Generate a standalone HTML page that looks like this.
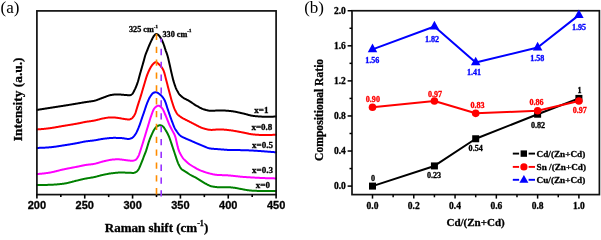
<!DOCTYPE html><html><head><meta charset="utf-8"><style>html,body{margin:0;padding:0;background:#fff;}svg{display:block;filter:blur(0.3px);}</style></head><body>
<svg width="601" height="235" viewBox="0 0 601 235">
<rect width="601" height="235" fill="#fff"/>
<text x="0.5" y="13" font-family='"Liberation Serif", serif' font-size="17" fill="#000">(a)</text>
<path d="M37.00,185.10 L37.40,185.10 L37.80,185.10 L38.20,185.10 L38.60,185.10 L39.00,185.09 L39.40,185.09 L39.80,185.08 L40.20,185.08 L40.60,185.07 L41.00,185.06 L41.40,185.06 L41.80,185.05 L42.20,185.04 L42.60,185.03 L43.00,185.02 L43.40,185.01 L43.80,185.00 L44.20,184.98 L44.60,184.97 L45.00,184.96 L45.40,184.95 L45.80,184.93 L46.20,184.92 L46.60,184.91 L47.00,184.89 L47.40,184.88 L47.80,184.86 L48.20,184.85 L48.60,184.84 L49.00,184.82 L49.40,184.81 L49.80,184.80 L50.20,184.78 L50.60,184.77 L51.00,184.75 L51.40,184.73 L51.80,184.72 L52.20,184.70 L52.60,184.68 L53.00,184.65 L53.40,184.63 L53.80,184.61 L54.20,184.58 L54.60,184.56 L55.00,184.53 L55.40,184.50 L55.80,184.47 L56.20,184.44 L56.60,184.41 L57.00,184.38 L57.40,184.34 L57.80,184.31 L58.20,184.27 L58.60,184.23 L59.00,184.20 L59.40,184.16 L59.80,184.12 L60.20,184.07 L60.60,184.03 L61.00,183.99 L61.40,183.94 L61.80,183.90 L62.20,183.85 L62.60,183.80 L63.00,183.75 L63.40,183.70 L63.80,183.65 L64.20,183.59 L64.60,183.53 L65.00,183.46 L65.40,183.39 L65.80,183.31 L66.20,183.23 L66.60,183.15 L67.00,183.07 L67.40,182.98 L67.80,182.89 L68.20,182.80 L68.60,182.70 L69.00,182.60 L69.40,182.51 L69.80,182.41 L70.20,182.30 L70.60,182.20 L71.00,182.10 L71.40,181.99 L71.80,181.88 L72.20,181.78 L72.60,181.67 L73.00,181.56 L73.40,181.46 L73.80,181.35 L74.20,181.25 L74.60,181.14 L75.00,181.04 L75.40,180.94 L75.80,180.84 L76.20,180.74 L76.60,180.64 L77.00,180.55 L77.40,180.45 L77.80,180.36 L78.20,180.27 L78.60,180.17 L79.00,180.08 L79.40,179.98 L79.80,179.89 L80.20,179.79 L80.60,179.69 L81.00,179.60 L81.40,179.50 L81.80,179.41 L82.20,179.32 L82.60,179.23 L83.00,179.13 L83.40,179.04 L83.80,178.96 L84.20,178.87 L84.60,178.78 L85.00,178.70 L85.40,178.62 L85.80,178.54 L86.20,178.47 L86.60,178.39 L87.00,178.32 L87.40,178.25 L87.80,178.19 L88.20,178.12 L88.60,178.06 L89.00,177.99 L89.40,177.93 L89.80,177.87 L90.20,177.80 L90.60,177.74 L91.00,177.67 L91.40,177.60 L91.80,177.54 L92.20,177.47 L92.60,177.39 L93.00,177.32 L93.40,177.24 L93.80,177.16 L94.20,177.08 L94.60,176.99 L95.00,176.90 L95.40,176.81 L95.80,176.71 L96.20,176.61 L96.60,176.51 L97.00,176.40 L97.40,176.30 L97.80,176.19 L98.20,176.08 L98.60,175.97 L99.00,175.87 L99.40,175.76 L99.80,175.65 L100.20,175.55 L100.60,175.44 L101.00,175.34 L101.40,175.24 L101.80,175.14 L102.20,175.04 L102.60,174.95 L103.00,174.86 L103.40,174.78 L103.80,174.70 L104.20,174.61 L104.60,174.53 L105.00,174.45 L105.40,174.36 L105.80,174.28 L106.20,174.20 L106.60,174.12 L107.00,174.05 L107.40,173.97 L107.80,173.89 L108.20,173.82 L108.60,173.75 L109.00,173.68 L109.40,173.61 L109.80,173.55 L110.20,173.49 L110.60,173.43 L111.00,173.37 L111.40,173.32 L111.80,173.27 L112.20,173.22 L112.60,173.18 L113.00,173.13 L113.40,173.09 L113.80,173.04 L114.20,173.00 L114.60,172.95 L115.00,172.91 L115.40,172.87 L115.80,172.82 L116.20,172.78 L116.60,172.74 L117.00,172.70 L117.40,172.67 L117.80,172.63 L118.20,172.60 L118.60,172.58 L119.00,172.55 L119.40,172.53 L119.80,172.52 L120.20,172.50 L120.60,172.50 L121.00,172.49 L121.40,172.50 L121.80,172.50 L122.20,172.51 L122.60,172.53 L123.00,172.54 L123.40,172.55 L123.80,172.57 L124.20,172.59 L124.60,172.60 L125.00,172.62 L125.40,172.64 L125.80,172.66 L126.20,172.68 L126.60,172.70 L127.00,172.72 L127.40,172.74 L127.80,172.75 L128.20,172.77 L128.60,172.79 L129.00,172.80 L129.40,172.82 L129.80,172.83 L130.20,172.84 L130.60,172.85 L131.00,172.86 L131.40,172.87 L131.80,172.88 L132.20,172.89 L132.60,172.89 L133.00,172.90 L133.40,172.90 L133.80,172.88 L134.20,172.79 L134.60,172.66 L135.00,172.48 L135.40,172.29 L135.80,172.09 L136.20,171.90 L136.60,171.63 L137.00,171.30 L137.40,170.89 L137.80,170.44 L138.20,169.93 L138.60,169.29 L139.00,168.53 L139.40,167.68 L139.80,166.77 L140.20,165.83 L140.60,164.90 L141.00,163.95 L141.40,162.96 L141.80,161.93 L142.20,160.89 L142.60,159.83 L143.00,158.78 L143.40,157.74 L143.80,156.73 L144.20,155.73 L144.60,154.72 L145.00,153.70 L145.40,152.65 L145.80,151.56 L146.20,150.42 L146.60,149.18 L147.00,147.88 L147.40,146.54 L147.80,145.19 L148.20,143.86 L148.60,142.57 L149.00,141.37 L149.40,140.25 L149.80,139.20 L150.20,138.18 L150.60,137.20 L151.00,136.25 L151.40,135.33 L151.80,134.44 L152.20,133.56 L152.60,132.69 L153.00,131.85 L153.40,131.05 L153.80,130.33 L154.20,129.69 L154.60,129.07 L155.00,128.48 L155.40,127.93 L155.80,127.44 L156.20,127.04 L156.60,126.73 L157.00,126.46 L157.40,126.20 L157.80,125.96 L158.20,125.74 L158.60,125.55 L159.00,125.40 L159.40,125.28 L159.80,125.21 L160.20,125.20 L160.60,125.25 L161.00,125.36 L161.40,125.52 L161.80,125.72 L162.20,125.95 L162.60,126.22 L163.00,126.50 L163.40,126.86 L163.80,127.34 L164.20,127.92 L164.60,128.54 L165.00,129.20 L165.40,129.84 L165.80,130.47 L166.20,131.12 L166.60,131.79 L167.00,132.49 L167.40,133.23 L167.80,134.01 L168.20,134.84 L168.60,135.73 L169.00,136.68 L169.40,137.70 L169.80,138.77 L170.20,139.88 L170.60,141.03 L171.00,142.21 L171.40,143.41 L171.80,144.62 L172.20,145.84 L172.60,147.06 L173.00,148.26 L173.40,149.44 L173.80,150.60 L174.20,151.76 L174.60,152.96 L175.00,154.19 L175.40,155.43 L175.80,156.67 L176.20,157.89 L176.60,159.09 L177.00,160.24 L177.40,161.34 L177.80,162.38 L178.20,163.34 L178.60,164.21 L179.00,165.03 L179.40,165.82 L179.80,166.56 L180.20,167.25 L180.60,167.88 L181.00,168.44 L181.40,168.93 L181.80,169.33 L182.20,169.65 L182.60,169.94 L183.00,170.21 L183.40,170.46 L183.80,170.70 L184.20,170.93 L184.60,171.16 L185.00,171.39 L185.40,171.63 L185.80,171.87 L186.20,172.13 L186.60,172.39 L187.00,172.66 L187.40,172.93 L187.80,173.20 L188.20,173.47 L188.60,173.74 L189.00,174.00 L189.40,174.26 L189.80,174.52 L190.20,174.76 L190.60,175.00 L191.00,175.23 L191.40,175.44 L191.80,175.65 L192.20,175.85 L192.60,176.04 L193.00,176.24 L193.40,176.43 L193.80,176.62 L194.20,176.82 L194.60,177.02 L195.00,177.24 L195.40,177.46 L195.80,177.68 L196.20,177.92 L196.60,178.16 L197.00,178.40 L197.40,178.65 L197.80,178.90 L198.20,179.15 L198.60,179.40 L199.00,179.66 L199.40,179.92 L199.80,180.17 L200.20,180.43 L200.60,180.69 L201.00,180.95 L201.40,181.20 L201.80,181.45 L202.20,181.70 L202.60,181.95 L203.00,182.19 L203.40,182.43 L203.80,182.67 L204.20,182.90 L204.60,183.12 L205.00,183.34 L205.40,183.55 L205.80,183.75 L206.20,183.96 L206.60,184.17 L207.00,184.39 L207.40,184.59 L207.80,184.80 L208.20,185.00 L208.60,185.20 L209.00,185.39 L209.40,185.57 L209.80,185.75 L210.20,185.91 L210.60,186.05 L211.00,186.19 L211.40,186.30 L211.80,186.40 L212.20,186.48 L212.60,186.55 L213.00,186.61 L213.40,186.68 L213.80,186.74 L214.20,186.80 L214.60,186.85 L215.00,186.91 L215.40,186.96 L215.80,187.01 L216.20,187.06 L216.60,187.10 L217.00,187.14 L217.40,187.18 L217.80,187.21 L218.20,187.23 L218.60,187.26 L219.00,187.28 L219.40,187.29 L219.80,187.30 L220.20,187.30 L220.60,187.30 L221.00,187.30 L221.40,187.29 L221.80,187.29 L222.20,187.28 L222.60,187.27 L223.00,187.26 L223.40,187.25 L223.80,187.23 L224.20,187.22 L224.60,187.21 L225.00,187.20 L225.40,187.20 L225.80,187.19 L226.20,187.19 L226.60,187.19 L227.00,187.19 L227.40,187.20 L227.80,187.21 L228.20,187.22 L228.60,187.23 L229.00,187.25 L229.40,187.28 L229.80,187.30 L230.20,187.33 L230.60,187.36 L231.00,187.39 L231.40,187.43 L231.80,187.46 L232.20,187.50 L232.60,187.54 L233.00,187.59 L233.40,187.63 L233.80,187.68 L234.20,187.72 L234.60,187.78 L235.00,187.84 L235.40,187.91 L235.80,187.98 L236.20,188.05 L236.60,188.13 L237.00,188.21 L237.40,188.29 L237.80,188.38 L238.20,188.46 L238.60,188.54 L239.00,188.62 L239.40,188.69 L239.80,188.77 L240.20,188.83 L240.60,188.90 L241.00,188.98 L241.40,189.05 L241.80,189.12 L242.20,189.20 L242.60,189.27 L243.00,189.35 L243.40,189.42 L243.80,189.50 L244.20,189.57 L244.60,189.65 L245.00,189.72 L245.40,189.80 L245.80,189.87 L246.20,189.94 L246.60,190.01 L247.00,190.07 L247.40,190.14 L247.80,190.20 L248.20,190.26 L248.60,190.31 L249.00,190.37 L249.40,190.41 L249.80,190.46 L250.20,190.50 L250.60,190.54 L251.00,190.57 L251.40,190.60 L251.80,190.63 L252.20,190.65 L252.60,190.67 L253.00,190.70 L253.40,190.72 L253.80,190.74 L254.20,190.76 L254.60,190.78 L255.00,190.80 L255.40,190.82 L255.80,190.84 L256.20,190.86 L256.60,190.87 L257.00,190.89 L257.40,190.90 L257.80,190.91 L258.20,190.93 L258.60,190.94 L259.00,190.95 L259.40,190.96 L259.80,190.97 L260.20,190.98 L260.60,190.98 L261.00,190.99 L261.40,190.99 L261.80,191.00 L262.20,191.00 L262.60,191.00 L263.00,191.01 L263.40,191.01 L263.80,191.01 L264.20,191.02 L264.60,191.02 L265.00,191.02 L265.40,191.02 L265.80,191.03 L266.20,191.03 L266.60,191.03 L267.00,191.03 L267.40,191.03 L267.80,191.04 L268.20,191.04 L268.60,191.04 L269.00,191.04 L269.40,191.04 L269.80,191.04 L270.20,191.04 L270.60,191.04 L271.00,191.04 L271.40,191.04 L271.80,191.04 L272.20,191.03 L272.60,191.03 L273.00,191.03 L273.40,191.03 L273.80,191.02 L274.20,191.02 L274.60,191.02 L275.00,191.01 L275.40,191.01 L275.80,191.00 L276.00,191.00" fill="none" stroke="#008000" stroke-width="2.00" stroke-linejoin="round" stroke-linecap="round"/>
<path d="M37.00,174.00 L37.40,173.98 L37.80,173.97 L38.20,173.95 L38.60,173.92 L39.00,173.90 L39.40,173.87 L39.80,173.84 L40.20,173.81 L40.60,173.78 L41.00,173.74 L41.40,173.70 L41.80,173.66 L42.20,173.62 L42.60,173.58 L43.00,173.54 L43.40,173.49 L43.80,173.44 L44.20,173.39 L44.60,173.34 L45.00,173.29 L45.40,173.24 L45.80,173.18 L46.20,173.13 L46.60,173.07 L47.00,173.01 L47.40,172.96 L47.80,172.90 L48.20,172.84 L48.60,172.77 L49.00,172.71 L49.40,172.65 L49.80,172.58 L50.20,172.52 L50.60,172.45 L51.00,172.37 L51.40,172.29 L51.80,172.21 L52.20,172.13 L52.60,172.04 L53.00,171.96 L53.40,171.86 L53.80,171.77 L54.20,171.68 L54.60,171.58 L55.00,171.48 L55.40,171.38 L55.80,171.28 L56.20,171.18 L56.60,171.07 L57.00,170.97 L57.40,170.87 L57.80,170.76 L58.20,170.66 L58.60,170.56 L59.00,170.45 L59.40,170.35 L59.80,170.25 L60.20,170.15 L60.60,170.05 L61.00,169.95 L61.40,169.85 L61.80,169.76 L62.20,169.67 L62.60,169.57 L63.00,169.49 L63.40,169.40 L63.80,169.32 L64.20,169.23 L64.60,169.15 L65.00,169.07 L65.40,168.99 L65.80,168.91 L66.20,168.83 L66.60,168.75 L67.00,168.67 L67.40,168.59 L67.80,168.51 L68.20,168.43 L68.60,168.36 L69.00,168.28 L69.40,168.20 L69.80,168.13 L70.20,168.05 L70.60,167.97 L71.00,167.90 L71.40,167.82 L71.80,167.75 L72.20,167.67 L72.60,167.59 L73.00,167.52 L73.40,167.44 L73.80,167.36 L74.20,167.29 L74.60,167.21 L75.00,167.13 L75.40,167.06 L75.80,166.98 L76.20,166.90 L76.60,166.82 L77.00,166.74 L77.40,166.66 L77.80,166.58 L78.20,166.50 L78.60,166.41 L79.00,166.33 L79.40,166.24 L79.80,166.16 L80.20,166.07 L80.60,165.98 L81.00,165.90 L81.40,165.81 L81.80,165.73 L82.20,165.65 L82.60,165.56 L83.00,165.48 L83.40,165.40 L83.80,165.32 L84.20,165.25 L84.60,165.17 L85.00,165.10 L85.40,165.03 L85.80,164.97 L86.20,164.91 L86.60,164.85 L87.00,164.80 L87.40,164.75 L87.80,164.71 L88.20,164.66 L88.60,164.62 L89.00,164.58 L89.40,164.53 L89.80,164.49 L90.20,164.45 L90.60,164.41 L91.00,164.36 L91.40,164.31 L91.80,164.26 L92.20,164.21 L92.60,164.15 L93.00,164.09 L93.40,164.03 L93.80,163.96 L94.20,163.88 L94.60,163.80 L95.00,163.71 L95.40,163.62 L95.80,163.52 L96.20,163.41 L96.60,163.30 L97.00,163.19 L97.40,163.08 L97.80,162.96 L98.20,162.84 L98.60,162.72 L99.00,162.60 L99.40,162.48 L99.80,162.36 L100.20,162.24 L100.60,162.12 L101.00,162.01 L101.40,161.89 L101.80,161.78 L102.20,161.67 L102.60,161.57 L103.00,161.47 L103.40,161.38 L103.80,161.28 L104.20,161.19 L104.60,161.09 L105.00,161.00 L105.40,160.90 L105.80,160.81 L106.20,160.72 L106.60,160.62 L107.00,160.53 L107.40,160.44 L107.80,160.36 L108.20,160.27 L108.60,160.19 L109.00,160.11 L109.40,160.03 L109.80,159.96 L110.20,159.89 L110.60,159.83 L111.00,159.77 L111.40,159.71 L111.80,159.66 L112.20,159.62 L112.60,159.58 L113.00,159.55 L113.40,159.51 L113.80,159.48 L114.20,159.45 L114.60,159.42 L115.00,159.39 L115.40,159.37 L115.80,159.35 L116.20,159.34 L116.60,159.33 L117.00,159.32 L117.40,159.32 L117.80,159.32 L118.20,159.32 L118.60,159.33 L119.00,159.35 L119.40,159.37 L119.80,159.40 L120.20,159.43 L120.60,159.47 L121.00,159.51 L121.40,159.56 L121.80,159.61 L122.20,159.66 L122.60,159.71 L123.00,159.77 L123.40,159.82 L123.80,159.88 L124.20,159.93 L124.60,159.99 L125.00,160.05 L125.40,160.10 L125.80,160.15 L126.20,160.20 L126.60,160.25 L127.00,160.30 L127.40,160.34 L127.80,160.39 L128.20,160.44 L128.60,160.48 L129.00,160.53 L129.40,160.57 L129.80,160.62 L130.20,160.66 L130.60,160.70 L131.00,160.74 L131.40,160.77 L131.80,160.81 L132.20,160.81 L132.60,160.77 L133.00,160.71 L133.40,160.61 L133.80,160.50 L134.20,160.37 L134.60,160.24 L135.00,160.10 L135.40,159.96 L135.80,159.73 L136.20,159.39 L136.60,158.94 L137.00,158.41 L137.40,157.80 L137.80,157.14 L138.20,156.44 L138.60,155.71 L139.00,154.80 L139.40,153.70 L139.80,152.49 L140.20,151.23 L140.60,150.00 L141.00,148.79 L141.40,147.55 L141.80,146.29 L142.20,145.02 L142.60,143.74 L143.00,142.44 L143.40,141.15 L143.80,139.85 L144.20,138.55 L144.60,137.24 L145.00,135.93 L145.40,134.60 L145.80,133.28 L146.20,131.95 L146.60,130.62 L147.00,129.31 L147.40,128.00 L147.80,126.69 L148.20,125.35 L148.60,124.01 L149.00,122.67 L149.40,121.34 L149.80,120.03 L150.20,118.76 L150.60,117.53 L151.00,116.36 L151.40,115.24 L151.80,114.11 L152.20,112.99 L152.60,111.91 L153.00,110.89 L153.40,109.97 L153.80,109.18 L154.20,108.55 L154.60,108.08 L155.00,107.66 L155.40,107.26 L155.80,106.90 L156.20,106.57 L156.60,106.29 L157.00,106.05 L157.40,105.87 L157.80,105.75 L158.20,105.69 L158.60,105.70 L159.00,105.78 L159.40,105.93 L159.80,106.13 L160.20,106.39 L160.60,106.71 L161.00,107.07 L161.40,107.47 L161.80,107.91 L162.20,108.38 L162.60,108.91 L163.00,109.58 L163.40,110.37 L163.80,111.24 L164.20,112.16 L164.60,113.11 L165.00,114.07 L165.40,115.00 L165.80,115.93 L166.20,116.90 L166.60,117.89 L167.00,118.90 L167.40,119.91 L167.80,120.93 L168.20,121.93 L168.60,122.91 L169.00,123.87 L169.40,124.78 L169.80,125.65 L170.20,126.48 L170.60,127.28 L171.00,128.06 L171.40,128.83 L171.80,129.61 L172.20,130.38 L172.60,131.11 L173.00,131.79 L173.40,132.48 L173.80,133.19 L174.20,133.97 L174.60,134.83 L175.00,135.83 L175.40,137.08 L175.80,138.56 L176.20,140.20 L176.60,141.93 L177.00,143.70 L177.40,145.45 L177.80,147.12 L178.20,148.64 L178.60,149.95 L179.00,151.00 L179.40,151.88 L179.80,152.71 L180.20,153.51 L180.60,154.28 L181.00,155.00 L181.40,155.69 L181.80,156.34 L182.20,156.96 L182.60,157.54 L183.00,158.08 L183.40,158.59 L183.80,159.06 L184.20,159.50 L184.60,159.90 L185.00,160.29 L185.40,160.68 L185.80,161.06 L186.20,161.44 L186.60,161.81 L187.00,162.18 L187.40,162.54 L187.80,162.89 L188.20,163.23 L188.60,163.56 L189.00,163.87 L189.40,164.18 L189.80,164.47 L190.20,164.74 L190.60,165.00 L191.00,165.25 L191.40,165.50 L191.80,165.75 L192.20,166.00 L192.60,166.25 L193.00,166.50 L193.40,166.75 L193.80,166.99 L194.20,167.23 L194.60,167.47 L195.00,167.71 L195.40,167.94 L195.80,168.17 L196.20,168.40 L196.60,168.62 L197.00,168.84 L197.40,169.05 L197.80,169.26 L198.20,169.46 L198.60,169.65 L199.00,169.84 L199.40,170.02 L199.80,170.20 L200.20,170.36 L200.60,170.52 L201.00,170.68 L201.40,170.82 L201.80,170.97 L202.20,171.12 L202.60,171.26 L203.00,171.41 L203.40,171.55 L203.80,171.69 L204.20,171.82 L204.60,171.96 L205.00,172.09 L205.40,172.22 L205.80,172.35 L206.20,172.48 L206.60,172.60 L207.00,172.72 L207.40,172.84 L207.80,172.96 L208.20,173.08 L208.60,173.19 L209.00,173.30 L209.40,173.40 L209.80,173.51 L210.20,173.61 L210.60,173.71 L211.00,173.80 L211.40,173.89 L211.80,173.99 L212.20,174.09 L212.60,174.18 L213.00,174.28 L213.40,174.37 L213.80,174.45 L214.20,174.54 L214.60,174.61 L215.00,174.68 L215.40,174.73 L215.80,174.78 L216.20,174.82 L216.60,174.85 L217.00,174.88 L217.40,174.91 L217.80,174.94 L218.20,174.96 L218.60,174.98 L219.00,175.01 L219.40,175.03 L219.80,175.04 L220.20,175.06 L220.60,175.08 L221.00,175.09 L221.40,175.11 L221.80,175.12 L222.20,175.14 L222.60,175.15 L223.00,175.16 L223.40,175.18 L223.80,175.19 L224.20,175.20 L224.60,175.22 L225.00,175.23 L225.40,175.25 L225.80,175.27 L226.20,175.28 L226.60,175.30 L227.00,175.32 L227.40,175.35 L227.80,175.37 L228.20,175.40 L228.60,175.42 L229.00,175.45 L229.40,175.48 L229.80,175.52 L230.20,175.55 L230.60,175.59 L231.00,175.63 L231.40,175.67 L231.80,175.71 L232.20,175.75 L232.60,175.79 L233.00,175.83 L233.40,175.88 L233.80,175.92 L234.20,175.96 L234.60,176.01 L235.00,176.05 L235.40,176.10 L235.80,176.14 L236.20,176.19 L236.60,176.24 L237.00,176.28 L237.40,176.33 L237.80,176.37 L238.20,176.42 L238.60,176.46 L239.00,176.50 L239.40,176.55 L239.80,176.59 L240.20,176.63 L240.60,176.67 L241.00,176.71 L241.40,176.75 L241.80,176.79 L242.20,176.82 L242.60,176.86 L243.00,176.89 L243.40,176.92 L243.80,176.95 L244.20,176.98 L244.60,177.01 L245.00,177.03 L245.40,177.06 L245.80,177.08 L246.20,177.11 L246.60,177.14 L247.00,177.16 L247.40,177.19 L247.80,177.21 L248.20,177.24 L248.60,177.26 L249.00,177.29 L249.40,177.31 L249.80,177.34 L250.20,177.36 L250.60,177.38 L251.00,177.41 L251.40,177.43 L251.80,177.46 L252.20,177.48 L252.60,177.50 L253.00,177.53 L253.40,177.55 L253.80,177.57 L254.20,177.59 L254.60,177.62 L255.00,177.64 L255.40,177.66 L255.80,177.68 L256.20,177.70 L256.60,177.72 L257.00,177.75 L257.40,177.77 L257.80,177.79 L258.20,177.81 L258.60,177.83 L259.00,177.85 L259.40,177.87 L259.80,177.89 L260.20,177.91 L260.60,177.92 L261.00,177.94 L261.40,177.96 L261.80,177.98 L262.20,178.00 L262.60,178.01 L263.00,178.03 L263.40,178.05 L263.80,178.06 L264.20,178.08 L264.60,178.10 L265.00,178.11 L265.40,178.13 L265.80,178.14 L266.20,178.16 L266.60,178.17 L267.00,178.19 L267.40,178.20 L267.80,178.21 L268.20,178.23 L268.60,178.24 L269.00,178.25 L269.40,178.26 L269.80,178.27 L270.20,178.28 L270.60,178.30 L271.00,178.31 L271.40,178.32 L271.80,178.32 L272.20,178.33 L272.60,178.34 L273.00,178.35 L273.40,178.36 L273.80,178.37 L274.20,178.37 L274.60,178.38 L275.00,178.39 L275.40,178.39 L275.80,178.40 L276.00,178.40" fill="none" stroke="#ff00ff" stroke-width="2.00" stroke-linejoin="round" stroke-linecap="round"/>
<path d="M37.00,147.90 L37.40,147.90 L37.80,147.90 L38.20,147.89 L38.60,147.89 L39.00,147.88 L39.40,147.87 L39.80,147.86 L40.20,147.85 L40.60,147.84 L41.00,147.82 L41.40,147.81 L41.80,147.79 L42.20,147.78 L42.60,147.76 L43.00,147.74 L43.40,147.72 L43.80,147.70 L44.20,147.68 L44.60,147.65 L45.00,147.63 L45.40,147.61 L45.80,147.58 L46.20,147.55 L46.60,147.53 L47.00,147.50 L47.40,147.47 L47.80,147.44 L48.20,147.41 L48.60,147.38 L49.00,147.35 L49.40,147.32 L49.80,147.29 L50.20,147.26 L50.60,147.22 L51.00,147.19 L51.40,147.15 L51.80,147.10 L52.20,147.06 L52.60,147.01 L53.00,146.96 L53.40,146.92 L53.80,146.86 L54.20,146.81 L54.60,146.76 L55.00,146.70 L55.40,146.64 L55.80,146.59 L56.20,146.53 L56.60,146.47 L57.00,146.41 L57.40,146.35 L57.80,146.28 L58.20,146.22 L58.60,146.16 L59.00,146.09 L59.40,146.03 L59.80,145.97 L60.20,145.90 L60.60,145.84 L61.00,145.77 L61.40,145.71 L61.80,145.65 L62.20,145.58 L62.60,145.52 L63.00,145.46 L63.40,145.40 L63.80,145.34 L64.20,145.28 L64.60,145.22 L65.00,145.16 L65.40,145.09 L65.80,145.03 L66.20,144.97 L66.60,144.90 L67.00,144.84 L67.40,144.78 L67.80,144.71 L68.20,144.65 L68.60,144.58 L69.00,144.52 L69.40,144.45 L69.80,144.39 L70.20,144.32 L70.60,144.25 L71.00,144.19 L71.40,144.12 L71.80,144.05 L72.20,143.98 L72.60,143.92 L73.00,143.85 L73.40,143.78 L73.80,143.71 L74.20,143.64 L74.60,143.57 L75.00,143.50 L75.40,143.43 L75.80,143.35 L76.20,143.28 L76.60,143.21 L77.00,143.14 L77.40,143.06 L77.80,142.99 L78.20,142.91 L78.60,142.82 L79.00,142.74 L79.40,142.65 L79.80,142.57 L80.20,142.48 L80.60,142.39 L81.00,142.30 L81.40,142.21 L81.80,142.12 L82.20,142.04 L82.60,141.95 L83.00,141.87 L83.40,141.79 L83.80,141.71 L84.20,141.64 L84.60,141.57 L85.00,141.50 L85.40,141.44 L85.80,141.38 L86.20,141.32 L86.60,141.27 L87.00,141.22 L87.40,141.17 L87.80,141.13 L88.20,141.08 L88.60,141.04 L89.00,140.99 L89.40,140.95 L89.80,140.91 L90.20,140.87 L90.60,140.83 L91.00,140.79 L91.40,140.74 L91.80,140.70 L92.20,140.65 L92.60,140.60 L93.00,140.55 L93.40,140.50 L93.80,140.44 L94.20,140.38 L94.60,140.32 L95.00,140.26 L95.40,140.19 L95.80,140.12 L96.20,140.05 L96.60,139.98 L97.00,139.90 L97.40,139.83 L97.80,139.75 L98.20,139.68 L98.60,139.60 L99.00,139.52 L99.40,139.45 L99.80,139.37 L100.20,139.30 L100.60,139.23 L101.00,139.16 L101.40,139.09 L101.80,139.02 L102.20,138.96 L102.60,138.90 L103.00,138.84 L103.40,138.79 L103.80,138.73 L104.20,138.68 L104.60,138.63 L105.00,138.58 L105.40,138.53 L105.80,138.48 L106.20,138.43 L106.60,138.38 L107.00,138.34 L107.40,138.29 L107.80,138.25 L108.20,138.21 L108.60,138.17 L109.00,138.13 L109.40,138.09 L109.80,138.06 L110.20,138.03 L110.60,138.00 L111.00,137.97 L111.40,137.95 L111.80,137.93 L112.20,137.91 L112.60,137.89 L113.00,137.88 L113.40,137.87 L113.80,137.87 L114.20,137.86 L114.60,137.86 L115.00,137.86 L115.40,137.86 L115.80,137.87 L116.20,137.88 L116.60,137.89 L117.00,137.90 L117.40,137.91 L117.80,137.92 L118.20,137.94 L118.60,137.95 L119.00,137.97 L119.40,137.99 L119.80,138.01 L120.20,138.03 L120.60,138.05 L121.00,138.07 L121.40,138.09 L121.80,138.11 L122.20,138.14 L122.60,138.18 L123.00,138.23 L123.40,138.29 L123.80,138.35 L124.20,138.42 L124.60,138.48 L125.00,138.55 L125.40,138.62 L125.80,138.69 L126.20,138.76 L126.60,138.82 L127.00,138.88 L127.40,138.93 L127.80,138.98 L128.20,139.01 L128.60,139.01 L129.00,138.96 L129.40,138.88 L129.80,138.78 L130.20,138.65 L130.60,138.51 L131.00,138.36 L131.40,138.21 L131.80,138.06 L132.20,137.85 L132.60,137.56 L133.00,137.21 L133.40,136.80 L133.80,136.34 L134.20,135.85 L134.60,135.33 L135.00,134.80 L135.40,134.26 L135.80,133.65 L136.20,132.94 L136.60,132.17 L137.00,131.33 L137.40,130.46 L137.80,129.57 L138.20,128.67 L138.60,127.73 L139.00,126.71 L139.40,125.65 L139.80,124.56 L140.20,123.43 L140.60,122.25 L141.00,121.04 L141.40,119.81 L141.80,118.59 L142.20,117.42 L142.60,116.27 L143.00,115.13 L143.40,113.99 L143.80,112.85 L144.20,111.70 L144.60,110.51 L145.00,109.28 L145.40,108.04 L145.80,106.82 L146.20,105.64 L146.60,104.52 L147.00,103.49 L147.40,102.49 L147.80,101.51 L148.20,100.57 L148.60,99.67 L149.00,98.82 L149.40,98.04 L149.80,97.33 L150.20,96.68 L150.60,96.05 L151.00,95.44 L151.40,94.85 L151.80,94.31 L152.20,93.83 L152.60,93.43 L153.00,93.12 L153.40,92.90 L153.80,92.71 L154.20,92.55 L154.60,92.41 L155.00,92.31 L155.40,92.25 L155.80,92.24 L156.20,92.28 L156.60,92.38 L157.00,92.53 L157.40,92.72 L157.80,92.94 L158.20,93.19 L158.60,93.47 L159.00,93.76 L159.40,94.06 L159.80,94.35 L160.20,94.65 L160.60,94.97 L161.00,95.33 L161.40,95.71 L161.80,96.13 L162.20,96.59 L162.60,97.09 L163.00,97.62 L163.40,98.20 L163.80,98.81 L164.20,99.47 L164.60,100.19 L165.00,101.04 L165.40,102.04 L165.80,103.17 L166.20,104.38 L166.60,105.64 L167.00,106.93 L167.40,108.20 L167.80,109.42 L168.20,110.57 L168.60,111.73 L169.00,112.91 L169.40,114.08 L169.80,115.25 L170.20,116.41 L170.60,117.55 L171.00,118.66 L171.40,119.74 L171.80,120.79 L172.20,121.86 L172.60,122.94 L173.00,124.00 L173.40,125.03 L173.80,126.03 L174.20,126.97 L174.60,127.85 L175.00,128.64 L175.40,129.34 L175.80,129.96 L176.20,130.56 L176.60,131.15 L177.00,131.73 L177.40,132.28 L177.80,132.82 L178.20,133.34 L178.60,133.83 L179.00,134.29 L179.40,134.73 L179.80,135.14 L180.20,135.51 L180.60,135.85 L181.00,136.16 L181.40,136.43 L181.80,136.65 L182.20,136.87 L182.60,137.07 L183.00,137.27 L183.40,137.47 L183.80,137.66 L184.20,137.85 L184.60,138.03 L185.00,138.21 L185.40,138.39 L185.80,138.57 L186.20,138.74 L186.60,138.91 L187.00,139.08 L187.40,139.25 L187.80,139.42 L188.20,139.58 L188.60,139.75 L189.00,139.92 L189.40,140.09 L189.80,140.26 L190.20,140.43 L190.60,140.60 L191.00,140.77 L191.40,140.95 L191.80,141.13 L192.20,141.30 L192.60,141.48 L193.00,141.66 L193.40,141.84 L193.80,142.01 L194.20,142.19 L194.60,142.37 L195.00,142.55 L195.40,142.72 L195.80,142.90 L196.20,143.07 L196.60,143.25 L197.00,143.42 L197.40,143.59 L197.80,143.77 L198.20,143.94 L198.60,144.10 L199.00,144.27 L199.40,144.44 L199.80,144.60 L200.20,144.76 L200.60,144.92 L201.00,145.08 L201.40,145.24 L201.80,145.41 L202.20,145.58 L202.60,145.75 L203.00,145.92 L203.40,146.09 L203.80,146.27 L204.20,146.44 L204.60,146.61 L205.00,146.78 L205.40,146.95 L205.80,147.11 L206.20,147.27 L206.60,147.43 L207.00,147.57 L207.40,147.72 L207.80,147.85 L208.20,147.98 L208.60,148.10 L209.00,148.21 L209.40,148.31 L209.80,148.40 L210.20,148.48 L210.60,148.55 L211.00,148.60 L211.40,148.65 L211.80,148.69 L212.20,148.73 L212.60,148.77 L213.00,148.81 L213.40,148.84 L213.80,148.87 L214.20,148.91 L214.60,148.94 L215.00,148.96 L215.40,148.99 L215.80,149.02 L216.20,149.05 L216.60,149.07 L217.00,149.10 L217.40,149.12 L217.80,149.15 L218.20,149.18 L218.60,149.20 L219.00,149.23 L219.40,149.26 L219.80,149.29 L220.20,149.31 L220.60,149.35 L221.00,149.38 L221.40,149.41 L221.80,149.44 L222.20,149.47 L222.60,149.50 L223.00,149.54 L223.40,149.57 L223.80,149.60 L224.20,149.64 L224.60,149.67 L225.00,149.70 L225.40,149.73 L225.80,149.76 L226.20,149.79 L226.60,149.82 L227.00,149.85 L227.40,149.88 L227.80,149.90 L228.20,149.93 L228.60,149.95 L229.00,149.97 L229.40,149.99 L229.80,150.01 L230.20,150.03 L230.60,150.04 L231.00,150.05 L231.40,150.06 L231.80,150.07 L232.20,150.08 L232.60,150.09 L233.00,150.10 L233.40,150.10 L233.80,150.11 L234.20,150.11 L234.60,150.11 L235.00,150.12 L235.40,150.12 L235.80,150.12 L236.20,150.12 L236.60,150.12 L237.00,150.12 L237.40,150.12 L237.80,150.12 L238.20,150.12 L238.60,150.12 L239.00,150.12 L239.40,150.12 L239.80,150.12 L240.20,150.12 L240.60,150.13 L241.00,150.13 L241.40,150.13 L241.80,150.14 L242.20,150.14 L242.60,150.15 L243.00,150.16 L243.40,150.17 L243.80,150.18 L244.20,150.19 L244.60,150.20 L245.00,150.22 L245.40,150.23 L245.80,150.25 L246.20,150.26 L246.60,150.28 L247.00,150.30 L247.40,150.31 L247.80,150.33 L248.20,150.35 L248.60,150.37 L249.00,150.39 L249.40,150.41 L249.80,150.43 L250.20,150.45 L250.60,150.47 L251.00,150.49 L251.40,150.51 L251.80,150.53 L252.20,150.55 L252.60,150.57 L253.00,150.60 L253.40,150.62 L253.80,150.64 L254.20,150.67 L254.60,150.69 L255.00,150.71 L255.40,150.74 L255.80,150.76 L256.20,150.79 L256.60,150.81 L257.00,150.84 L257.40,150.87 L257.80,150.89 L258.20,150.92 L258.60,150.95 L259.00,150.97 L259.40,151.00 L259.80,151.03 L260.20,151.06 L260.60,151.08 L261.00,151.11 L261.40,151.14 L261.80,151.17 L262.20,151.20 L262.60,151.23 L263.00,151.26 L263.40,151.29 L263.80,151.32 L264.20,151.35 L264.60,151.38 L265.00,151.41 L265.40,151.44 L265.80,151.47 L266.20,151.50 L266.60,151.53 L267.00,151.56 L267.40,151.60 L267.80,151.63 L268.20,151.66 L268.60,151.69 L269.00,151.72 L269.40,151.76 L269.80,151.79 L270.20,151.82 L270.60,151.85 L271.00,151.89 L271.40,151.92 L271.80,151.95 L272.20,151.98 L272.60,152.02 L273.00,152.05 L273.40,152.08 L273.80,152.12 L274.20,152.15 L274.60,152.18 L275.00,152.22 L275.40,152.25 L275.80,152.28 L276.00,152.30" fill="none" stroke="#0000ff" stroke-width="2.00" stroke-linejoin="round" stroke-linecap="round"/>
<path d="M37.00,129.40 L37.40,129.38 L37.80,129.36 L38.20,129.34 L38.60,129.32 L39.00,129.29 L39.40,129.27 L39.80,129.24 L40.20,129.21 L40.60,129.18 L41.00,129.15 L41.40,129.11 L41.80,129.08 L42.20,129.04 L42.60,129.00 L43.00,128.97 L43.40,128.93 L43.80,128.89 L44.20,128.85 L44.60,128.80 L45.00,128.76 L45.40,128.72 L45.80,128.67 L46.20,128.63 L46.60,128.58 L47.00,128.53 L47.40,128.48 L47.80,128.44 L48.20,128.39 L48.60,128.34 L49.00,128.29 L49.40,128.24 L49.80,128.19 L50.20,128.14 L50.60,128.08 L51.00,128.03 L51.40,127.97 L51.80,127.91 L52.20,127.85 L52.60,127.79 L53.00,127.72 L53.40,127.66 L53.80,127.59 L54.20,127.53 L54.60,127.46 L55.00,127.39 L55.40,127.32 L55.80,127.25 L56.20,127.18 L56.60,127.11 L57.00,127.04 L57.40,126.97 L57.80,126.89 L58.20,126.82 L58.60,126.75 L59.00,126.68 L59.40,126.60 L59.80,126.53 L60.20,126.46 L60.60,126.39 L61.00,126.32 L61.40,126.25 L61.80,126.17 L62.20,126.10 L62.60,126.04 L63.00,125.97 L63.40,125.90 L63.80,125.83 L64.20,125.77 L64.60,125.70 L65.00,125.64 L65.40,125.57 L65.80,125.50 L66.20,125.44 L66.60,125.37 L67.00,125.31 L67.40,125.25 L67.80,125.18 L68.20,125.12 L68.60,125.05 L69.00,124.99 L69.40,124.92 L69.80,124.86 L70.20,124.79 L70.60,124.73 L71.00,124.66 L71.40,124.60 L71.80,124.53 L72.20,124.47 L72.60,124.40 L73.00,124.33 L73.40,124.27 L73.80,124.20 L74.20,124.13 L74.60,124.06 L75.00,123.99 L75.40,123.92 L75.80,123.85 L76.20,123.78 L76.60,123.71 L77.00,123.64 L77.40,123.56 L77.80,123.49 L78.20,123.41 L78.60,123.33 L79.00,123.25 L79.40,123.16 L79.80,123.08 L80.20,122.99 L80.60,122.91 L81.00,122.82 L81.40,122.73 L81.80,122.65 L82.20,122.56 L82.60,122.48 L83.00,122.39 L83.40,122.31 L83.80,122.23 L84.20,122.15 L84.60,122.07 L85.00,122.00 L85.40,121.93 L85.80,121.86 L86.20,121.79 L86.60,121.73 L87.00,121.67 L87.40,121.61 L87.80,121.55 L88.20,121.50 L88.60,121.44 L89.00,121.39 L89.40,121.33 L89.80,121.28 L90.20,121.22 L90.60,121.16 L91.00,121.11 L91.40,121.05 L91.80,120.99 L92.20,120.93 L92.60,120.86 L93.00,120.80 L93.40,120.73 L93.80,120.66 L94.20,120.58 L94.60,120.50 L95.00,120.42 L95.40,120.33 L95.80,120.23 L96.20,120.14 L96.60,120.04 L97.00,119.94 L97.40,119.83 L97.80,119.73 L98.20,119.62 L98.60,119.52 L99.00,119.41 L99.40,119.31 L99.80,119.20 L100.20,119.10 L100.60,119.00 L101.00,118.90 L101.40,118.80 L101.80,118.71 L102.20,118.62 L102.60,118.54 L103.00,118.46 L103.40,118.38 L103.80,118.31 L104.20,118.23 L104.60,118.16 L105.00,118.08 L105.40,118.01 L105.80,117.94 L106.20,117.87 L106.60,117.81 L107.00,117.74 L107.40,117.68 L107.80,117.63 L108.20,117.58 L108.60,117.53 L109.00,117.49 L109.40,117.46 L109.80,117.43 L110.20,117.41 L110.60,117.40 L111.00,117.39 L111.40,117.39 L111.80,117.40 L112.20,117.41 L112.60,117.42 L113.00,117.44 L113.40,117.46 L113.80,117.48 L114.20,117.51 L114.60,117.55 L115.00,117.58 L115.40,117.62 L115.80,117.66 L116.20,117.70 L116.60,117.74 L117.00,117.79 L117.40,117.84 L117.80,117.89 L118.20,117.94 L118.60,118.00 L119.00,118.06 L119.40,118.12 L119.80,118.19 L120.20,118.26 L120.60,118.33 L121.00,118.41 L121.40,118.48 L121.80,118.56 L122.20,118.63 L122.60,118.71 L123.00,118.78 L123.40,118.85 L123.80,118.92 L124.20,118.98 L124.60,119.05 L125.00,119.10 L125.40,119.16 L125.80,119.21 L126.20,119.26 L126.60,119.31 L127.00,119.35 L127.40,119.39 L127.80,119.42 L128.20,119.45 L128.60,119.48 L129.00,119.50 L129.40,119.46 L129.80,119.36 L130.20,119.20 L130.60,119.00 L131.00,118.79 L131.40,118.56 L131.80,118.34 L132.20,118.07 L132.60,117.70 L133.00,117.25 L133.40,116.73 L133.80,116.13 L134.20,115.48 L134.60,114.77 L135.00,114.00 L135.40,113.05 L135.80,111.92 L136.20,110.65 L136.60,109.31 L137.00,107.95 L137.40,106.63 L137.80,105.38 L138.20,104.15 L138.60,102.92 L139.00,101.68 L139.40,100.44 L139.80,99.19 L140.20,97.93 L140.60,96.65 L141.00,95.35 L141.40,94.02 L141.80,92.67 L142.20,91.31 L142.60,89.94 L143.00,88.57 L143.40,87.21 L143.80,85.86 L144.20,84.54 L144.60,83.18 L145.00,81.82 L145.40,80.45 L145.80,79.11 L146.20,77.82 L146.60,76.59 L147.00,75.44 L147.40,74.38 L147.80,73.37 L148.20,72.41 L148.60,71.49 L149.00,70.61 L149.40,69.78 L149.80,68.99 L150.20,68.25 L150.60,67.55 L151.00,66.86 L151.40,66.20 L151.80,65.57 L152.20,65.00 L152.60,64.51 L153.00,64.10 L153.40,63.70 L153.80,63.31 L154.20,62.95 L154.60,62.65 L155.00,62.40 L155.40,62.25 L155.80,62.20 L156.20,62.26 L156.60,62.41 L157.00,62.63 L157.40,62.91 L157.80,63.23 L158.20,63.59 L158.60,63.97 L159.00,64.35 L159.40,64.71 L159.80,65.07 L160.20,65.47 L160.60,65.91 L161.00,66.39 L161.40,66.91 L161.80,67.49 L162.20,68.11 L162.60,68.78 L163.00,69.51 L163.40,70.29 L163.80,71.21 L164.20,72.38 L164.60,73.76 L165.00,75.28 L165.40,76.87 L165.80,78.47 L166.20,80.00 L166.60,81.50 L167.00,83.03 L167.40,84.58 L167.80,86.14 L168.20,87.70 L168.60,89.24 L169.00,90.76 L169.40,92.29 L169.80,93.84 L170.20,95.36 L170.60,96.86 L171.00,98.30 L171.40,99.67 L171.80,100.98 L172.20,102.28 L172.60,103.56 L173.00,104.80 L173.40,106.00 L173.80,107.13 L174.20,108.19 L174.60,109.15 L175.00,110.00 L175.40,110.79 L175.80,111.55 L176.20,112.27 L176.60,112.96 L177.00,113.58 L177.40,114.14 L177.80,114.61 L178.20,115.00 L178.60,115.33 L179.00,115.65 L179.40,115.97 L179.80,116.27 L180.20,116.56 L180.60,116.84 L181.00,117.11 L181.40,117.37 L181.80,117.63 L182.20,117.87 L182.60,118.11 L183.00,118.33 L183.40,118.55 L183.80,118.77 L184.20,118.98 L184.60,119.19 L185.00,119.39 L185.40,119.60 L185.80,119.80 L186.20,120.00 L186.60,120.20 L187.00,120.40 L187.40,120.59 L187.80,120.79 L188.20,120.99 L188.60,121.19 L189.00,121.40 L189.40,121.60 L189.80,121.81 L190.20,122.02 L190.60,122.23 L191.00,122.44 L191.40,122.65 L191.80,122.86 L192.20,123.07 L192.60,123.28 L193.00,123.48 L193.40,123.69 L193.80,123.90 L194.20,124.10 L194.60,124.30 L195.00,124.50 L195.40,124.70 L195.80,124.90 L196.20,125.11 L196.60,125.32 L197.00,125.53 L197.40,125.74 L197.80,125.95 L198.20,126.16 L198.60,126.37 L199.00,126.57 L199.40,126.77 L199.80,126.97 L200.20,127.16 L200.60,127.34 L201.00,127.51 L201.40,127.68 L201.80,127.83 L202.20,127.97 L202.60,128.11 L203.00,128.23 L203.40,128.35 L203.80,128.46 L204.20,128.58 L204.60,128.69 L205.00,128.81 L205.40,128.92 L205.80,129.02 L206.20,129.12 L206.60,129.22 L207.00,129.32 L207.40,129.41 L207.80,129.49 L208.20,129.57 L208.60,129.64 L209.00,129.70 L209.40,129.76 L209.80,129.80 L210.20,129.84 L210.60,129.87 L211.00,129.89 L211.40,129.90 L211.80,129.90 L212.20,129.89 L212.60,129.87 L213.00,129.85 L213.40,129.82 L213.80,129.79 L214.20,129.75 L214.60,129.71 L215.00,129.67 L215.40,129.63 L215.80,129.59 L216.20,129.55 L216.60,129.51 L217.00,129.48 L217.40,129.45 L217.80,129.43 L218.20,129.41 L218.60,129.40 L219.00,129.40 L219.40,129.40 L219.80,129.41 L220.20,129.42 L220.60,129.44 L221.00,129.46 L221.40,129.47 L221.80,129.49 L222.20,129.52 L222.60,129.54 L223.00,129.57 L223.40,129.59 L223.80,129.62 L224.20,129.65 L224.60,129.69 L225.00,129.72 L225.40,129.76 L225.80,129.79 L226.20,129.83 L226.60,129.87 L227.00,129.91 L227.40,129.95 L227.80,130.00 L228.20,130.04 L228.60,130.09 L229.00,130.13 L229.40,130.18 L229.80,130.22 L230.20,130.27 L230.60,130.32 L231.00,130.38 L231.40,130.43 L231.80,130.49 L232.20,130.55 L232.60,130.61 L233.00,130.67 L233.40,130.73 L233.80,130.80 L234.20,130.87 L234.60,130.93 L235.00,131.00 L235.40,131.07 L235.80,131.14 L236.20,131.22 L236.60,131.29 L237.00,131.36 L237.40,131.44 L237.80,131.51 L238.20,131.59 L238.60,131.67 L239.00,131.74 L239.40,131.82 L239.80,131.90 L240.20,131.97 L240.60,132.05 L241.00,132.13 L241.40,132.21 L241.80,132.29 L242.20,132.36 L242.60,132.44 L243.00,132.52 L243.40,132.59 L243.80,132.67 L244.20,132.74 L244.60,132.82 L245.00,132.90 L245.40,132.98 L245.80,133.06 L246.20,133.15 L246.60,133.24 L247.00,133.33 L247.40,133.42 L247.80,133.51 L248.20,133.60 L248.60,133.69 L249.00,133.78 L249.40,133.86 L249.80,133.94 L250.20,134.02 L250.60,134.09 L251.00,134.16 L251.40,134.22 L251.80,134.28 L252.20,134.32 L252.60,134.37 L253.00,134.41 L253.40,134.45 L253.80,134.49 L254.20,134.53 L254.60,134.57 L255.00,134.60 L255.40,134.64 L255.80,134.67 L256.20,134.70 L256.60,134.73 L257.00,134.76 L257.40,134.78 L257.80,134.81 L258.20,134.83 L258.60,134.85 L259.00,134.88 L259.40,134.89 L259.80,134.91 L260.20,134.93 L260.60,134.94 L261.00,134.96 L261.40,134.97 L261.80,134.98 L262.20,134.99 L262.60,135.00 L263.00,135.01 L263.40,135.01 L263.80,135.02 L264.20,135.02 L264.60,135.02 L265.00,135.03 L265.40,135.03 L265.80,135.03 L266.20,135.02 L266.60,135.02 L267.00,135.02 L267.40,135.01 L267.80,135.01 L268.20,135.00 L268.60,134.99 L269.00,134.98 L269.40,134.98 L269.80,134.96 L270.20,134.95 L270.60,134.94 L271.00,134.93 L271.40,134.91 L271.80,134.90 L272.20,134.88 L272.60,134.87 L273.00,134.85 L273.40,134.83 L273.80,134.81 L274.20,134.79 L274.60,134.77 L275.00,134.75 L275.40,134.73 L275.80,134.71 L276.00,134.70" fill="none" stroke="#ff0000" stroke-width="2.00" stroke-linejoin="round" stroke-linecap="round"/>
<path d="M37.00,109.90 L37.40,109.84 L37.80,109.78 L38.20,109.71 L38.60,109.65 L39.00,109.59 L39.40,109.53 L39.80,109.47 L40.20,109.40 L40.60,109.34 L41.00,109.28 L41.40,109.22 L41.80,109.16 L42.20,109.09 L42.60,109.03 L43.00,108.97 L43.40,108.91 L43.80,108.84 L44.20,108.78 L44.60,108.72 L45.00,108.66 L45.40,108.59 L45.80,108.53 L46.20,108.47 L46.60,108.41 L47.00,108.34 L47.40,108.28 L47.80,108.22 L48.20,108.16 L48.60,108.09 L49.00,108.03 L49.40,107.97 L49.80,107.91 L50.20,107.84 L50.60,107.78 L51.00,107.72 L51.40,107.66 L51.80,107.59 L52.20,107.53 L52.60,107.47 L53.00,107.40 L53.40,107.34 L53.80,107.28 L54.20,107.22 L54.60,107.15 L55.00,107.09 L55.40,107.03 L55.80,106.96 L56.20,106.90 L56.60,106.84 L57.00,106.78 L57.40,106.71 L57.80,106.65 L58.20,106.59 L58.60,106.53 L59.00,106.46 L59.40,106.40 L59.80,106.34 L60.20,106.28 L60.60,106.21 L61.00,106.15 L61.40,106.09 L61.80,106.02 L62.20,105.96 L62.60,105.90 L63.00,105.84 L63.40,105.77 L63.80,105.71 L64.20,105.65 L64.60,105.58 L65.00,105.52 L65.40,105.46 L65.80,105.39 L66.20,105.33 L66.60,105.27 L67.00,105.20 L67.40,105.14 L67.80,105.08 L68.20,105.01 L68.60,104.95 L69.00,104.88 L69.40,104.82 L69.80,104.75 L70.20,104.69 L70.60,104.63 L71.00,104.56 L71.40,104.50 L71.80,104.43 L72.20,104.37 L72.60,104.30 L73.00,104.23 L73.40,104.17 L73.80,104.10 L74.20,104.04 L74.60,103.97 L75.00,103.90 L75.40,103.83 L75.80,103.77 L76.20,103.70 L76.60,103.63 L77.00,103.56 L77.40,103.49 L77.80,103.42 L78.20,103.36 L78.60,103.29 L79.00,103.22 L79.40,103.15 L79.80,103.08 L80.20,103.01 L80.60,102.94 L81.00,102.87 L81.40,102.81 L81.80,102.74 L82.20,102.67 L82.60,102.60 L83.00,102.53 L83.40,102.47 L83.80,102.40 L84.20,102.33 L84.60,102.27 L85.00,102.20 L85.40,102.14 L85.80,102.07 L86.20,102.01 L86.60,101.96 L87.00,101.90 L87.40,101.85 L87.80,101.79 L88.20,101.74 L88.60,101.69 L89.00,101.63 L89.40,101.58 L89.80,101.53 L90.20,101.47 L90.60,101.42 L91.00,101.36 L91.40,101.30 L91.80,101.23 L92.20,101.17 L92.60,101.10 L93.00,101.02 L93.40,100.95 L93.80,100.86 L94.20,100.78 L94.60,100.68 L95.00,100.58 L95.40,100.47 L95.80,100.35 L96.20,100.23 L96.60,100.10 L97.00,99.96 L97.40,99.83 L97.80,99.68 L98.20,99.53 L98.60,99.38 L99.00,99.23 L99.40,99.08 L99.80,98.92 L100.20,98.76 L100.60,98.61 L101.00,98.45 L101.40,98.30 L101.80,98.15 L102.20,98.00 L102.60,97.85 L103.00,97.70 L103.40,97.57 L103.80,97.42 L104.20,97.27 L104.60,97.12 L105.00,96.97 L105.40,96.81 L105.80,96.65 L106.20,96.49 L106.60,96.33 L107.00,96.18 L107.40,96.03 L107.80,95.88 L108.20,95.75 L108.60,95.61 L109.00,95.49 L109.40,95.37 L109.80,95.27 L110.20,95.18 L110.60,95.10 L111.00,95.03 L111.40,94.96 L111.80,94.89 L112.20,94.82 L112.60,94.76 L113.00,94.70 L113.40,94.64 L113.80,94.59 L114.20,94.54 L114.60,94.50 L115.00,94.46 L115.40,94.43 L115.80,94.41 L116.20,94.39 L116.60,94.38 L117.00,94.38 L117.40,94.38 L117.80,94.39 L118.20,94.42 L118.60,94.44 L119.00,94.47 L119.40,94.50 L119.80,94.52 L120.20,94.56 L120.60,94.59 L121.00,94.62 L121.40,94.66 L121.80,94.69 L122.20,94.72 L122.60,94.76 L123.00,94.79 L123.40,94.83 L123.80,94.86 L124.20,94.89 L124.60,94.92 L125.00,94.96 L125.40,94.99 L125.80,95.02 L126.20,95.06 L126.60,95.09 L127.00,95.12 L127.40,95.16 L127.80,95.19 L128.20,95.22 L128.60,95.25 L129.00,95.27 L129.40,95.30 L129.80,95.28 L130.20,95.18 L130.60,95.02 L131.00,94.81 L131.40,94.56 L131.80,94.29 L132.20,94.00 L132.60,93.60 L133.00,93.01 L133.40,92.30 L133.80,91.51 L134.20,90.69 L134.60,89.91 L135.00,89.09 L135.40,88.22 L135.80,87.31 L136.20,86.35 L136.60,85.34 L137.00,84.29 L137.40,83.18 L137.80,82.00 L138.20,80.69 L138.60,79.27 L139.00,77.78 L139.40,76.27 L139.80,74.78 L140.20,73.35 L140.60,71.94 L141.00,70.54 L141.40,69.15 L141.80,67.75 L142.20,66.35 L142.60,64.95 L143.00,63.54 L143.40,62.12 L143.80,60.71 L144.20,59.27 L144.60,57.77 L145.00,56.30 L145.40,55.00 L145.80,53.89 L146.20,52.87 L146.60,51.92 L147.00,50.97 L147.40,50.00 L147.80,48.99 L148.20,47.97 L148.60,46.95 L149.00,45.96 L149.40,45.00 L149.80,44.08 L150.20,43.17 L150.60,42.29 L151.00,41.44 L151.40,40.60 L151.80,39.80 L152.20,38.98 L152.60,38.17 L153.00,37.39 L153.40,36.67 L153.80,36.06 L154.20,35.56 L154.60,35.10 L155.00,34.69 L155.40,34.35 L155.80,34.11 L156.20,34.00 L156.60,34.01 L157.00,34.12 L157.40,34.31 L157.80,34.57 L158.20,34.87 L158.60,35.20 L159.00,35.58 L159.40,36.06 L159.80,36.60 L160.20,37.21 L160.60,37.87 L161.00,38.56 L161.40,39.27 L161.80,40.00 L162.20,40.78 L162.60,41.67 L163.00,42.63 L163.40,43.66 L163.80,44.73 L164.20,45.86 L164.60,47.12 L165.00,48.43 L165.40,49.70 L165.80,50.85 L166.20,51.91 L166.60,52.96 L167.00,54.07 L167.40,55.33 L167.80,56.77 L168.20,58.35 L168.60,60.01 L169.00,61.72 L169.40,63.43 L169.80,65.20 L170.20,67.04 L170.60,68.88 L171.00,70.69 L171.40,72.43 L171.80,74.14 L172.20,75.86 L172.60,77.53 L173.00,79.14 L173.40,80.64 L173.80,82.00 L174.20,83.26 L174.60,84.49 L175.00,85.66 L175.40,86.76 L175.80,87.80 L176.20,88.75 L176.60,89.61 L177.00,90.38 L177.40,91.12 L177.80,91.84 L178.20,92.53 L178.60,93.19 L179.00,93.79 L179.40,94.33 L179.80,94.80 L180.20,95.19 L180.60,95.57 L181.00,95.93 L181.40,96.28 L181.80,96.62 L182.20,96.94 L182.60,97.25 L183.00,97.54 L183.40,97.82 L183.80,98.08 L184.20,98.32 L184.60,98.55 L185.00,98.77 L185.40,98.98 L185.80,99.18 L186.20,99.38 L186.60,99.58 L187.00,99.78 L187.40,99.99 L187.80,100.20 L188.20,100.43 L188.60,100.66 L189.00,100.90 L189.40,101.15 L189.80,101.40 L190.20,101.65 L190.60,101.91 L191.00,102.17 L191.40,102.44 L191.80,102.70 L192.20,102.97 L192.60,103.24 L193.00,103.50 L193.40,103.77 L193.80,104.03 L194.20,104.29 L194.60,104.55 L195.00,104.80 L195.40,105.06 L195.80,105.30 L196.20,105.54 L196.60,105.77 L197.00,106.00 L197.40,106.22 L197.80,106.45 L198.20,106.68 L198.60,106.90 L199.00,107.12 L199.40,107.35 L199.80,107.56 L200.20,107.78 L200.60,107.99 L201.00,108.19 L201.40,108.38 L201.80,108.57 L202.20,108.75 L202.60,108.91 L203.00,109.07 L203.40,109.21 L203.80,109.34 L204.20,109.46 L204.60,109.57 L205.00,109.69 L205.40,109.80 L205.80,109.92 L206.20,110.03 L206.60,110.13 L207.00,110.24 L207.40,110.33 L207.80,110.42 L208.20,110.50 L208.60,110.58 L209.00,110.64 L209.40,110.70 L209.80,110.74 L210.20,110.77 L210.60,110.79 L211.00,110.80 L211.40,110.80 L211.80,110.79 L212.20,110.78 L212.60,110.76 L213.00,110.75 L213.40,110.73 L213.80,110.71 L214.20,110.68 L214.60,110.66 L215.00,110.63 L215.40,110.61 L215.80,110.58 L216.20,110.55 L216.60,110.53 L217.00,110.50 L217.40,110.48 L217.80,110.46 L218.20,110.44 L218.60,110.42 L219.00,110.41 L219.40,110.40 L219.80,110.40 L220.20,110.39 L220.60,110.40 L221.00,110.41 L221.40,110.42 L221.80,110.43 L222.20,110.44 L222.60,110.46 L223.00,110.47 L223.40,110.49 L223.80,110.51 L224.20,110.53 L224.60,110.55 L225.00,110.58 L225.40,110.60 L225.80,110.63 L226.20,110.66 L226.60,110.69 L227.00,110.72 L227.40,110.75 L227.80,110.79 L228.20,110.82 L228.60,110.86 L229.00,110.90 L229.40,110.93 L229.80,110.97 L230.20,111.02 L230.60,111.06 L231.00,111.10 L231.40,111.15 L231.80,111.19 L232.20,111.25 L232.60,111.30 L233.00,111.36 L233.40,111.42 L233.80,111.49 L234.20,111.56 L234.60,111.63 L235.00,111.70 L235.40,111.77 L235.80,111.85 L236.20,111.93 L236.60,112.01 L237.00,112.10 L237.40,112.18 L237.80,112.27 L238.20,112.36 L238.60,112.44 L239.00,112.53 L239.40,112.63 L239.80,112.72 L240.20,112.81 L240.60,112.90 L241.00,112.99 L241.40,113.09 L241.80,113.18 L242.20,113.27 L242.60,113.37 L243.00,113.46 L243.40,113.55 L243.80,113.64 L244.20,113.73 L244.60,113.82 L245.00,113.92 L245.40,114.02 L245.80,114.12 L246.20,114.23 L246.60,114.34 L247.00,114.46 L247.40,114.57 L247.80,114.69 L248.20,114.81 L248.60,114.92 L249.00,115.03 L249.40,115.14 L249.80,115.25 L250.20,115.34 L250.60,115.44 L251.00,115.52 L251.40,115.60 L251.80,115.67 L252.20,115.73 L252.60,115.79 L253.00,115.84 L253.40,115.89 L253.80,115.95 L254.20,116.00 L254.60,116.04 L255.00,116.09 L255.40,116.13 L255.80,116.18 L256.20,116.22 L256.60,116.26 L257.00,116.30 L257.40,116.33 L257.80,116.37 L258.20,116.40 L258.60,116.43 L259.00,116.46 L259.40,116.49 L259.80,116.52 L260.20,116.54 L260.60,116.57 L261.00,116.59 L261.40,116.61 L261.80,116.63 L262.20,116.65 L262.60,116.66 L263.00,116.68 L263.40,116.69 L263.80,116.71 L264.20,116.72 L264.60,116.73 L265.00,116.74 L265.40,116.74 L265.80,116.75 L266.20,116.75 L266.60,116.76 L267.00,116.76 L267.40,116.76 L267.80,116.76 L268.20,116.76 L268.60,116.75 L269.00,116.75 L269.40,116.74 L269.80,116.74 L270.20,116.73 L270.60,116.72 L271.00,116.71 L271.40,116.70 L271.80,116.69 L272.20,116.68 L272.60,116.66 L273.00,116.65 L273.40,116.63 L273.80,116.61 L274.20,116.59 L274.60,116.57 L275.00,116.55 L275.40,116.53 L275.80,116.51 L276.00,116.50" fill="none" stroke="#000000" stroke-width="2.00" stroke-linejoin="round" stroke-linecap="round"/>
<rect x="36.90" y="10.90" width="239.20" height="183.70" fill="none" stroke="#111" stroke-width="1.7"/>
<line x1="36.90" y1="194.60" x2="36.90" y2="198.60" stroke="#000" stroke-width="1.6"/>
<line x1="60.82" y1="194.60" x2="60.82" y2="197.10" stroke="#000" stroke-width="1.6"/>
<line x1="84.74" y1="194.60" x2="84.74" y2="198.60" stroke="#000" stroke-width="1.6"/>
<line x1="108.66" y1="194.60" x2="108.66" y2="197.10" stroke="#000" stroke-width="1.6"/>
<line x1="132.58" y1="194.60" x2="132.58" y2="198.60" stroke="#000" stroke-width="1.6"/>
<line x1="156.50" y1="194.60" x2="156.50" y2="197.10" stroke="#000" stroke-width="1.6"/>
<line x1="180.42" y1="194.60" x2="180.42" y2="198.60" stroke="#000" stroke-width="1.6"/>
<line x1="204.34" y1="194.60" x2="204.34" y2="197.10" stroke="#000" stroke-width="1.6"/>
<line x1="228.26" y1="194.60" x2="228.26" y2="198.60" stroke="#000" stroke-width="1.6"/>
<line x1="252.18" y1="194.60" x2="252.18" y2="197.10" stroke="#000" stroke-width="1.6"/>
<line x1="276.10" y1="194.60" x2="276.10" y2="198.60" stroke="#000" stroke-width="1.6"/>
<line x1="156.5" y1="33.8" x2="156.5" y2="195.5" stroke="#ff8c00" stroke-width="1.6" stroke-dasharray="6.3,6.56"/>
<line x1="161.2" y1="38.6" x2="161.2" y2="197.5" stroke="#9933ff" stroke-width="1.6" stroke-dasharray="6.3,6.56" stroke-dashoffset="2.6"/>
<text x="36.90" y="209.2" text-anchor="middle" font-family='"Liberation Sans", sans-serif' font-weight="bold" font-size="11" fill="#000" stroke="#000" stroke-width="0.3">200</text>
<text x="84.74" y="209.2" text-anchor="middle" font-family='"Liberation Sans", sans-serif' font-weight="bold" font-size="11" fill="#000" stroke="#000" stroke-width="0.3">250</text>
<text x="132.58" y="209.2" text-anchor="middle" font-family='"Liberation Sans", sans-serif' font-weight="bold" font-size="11" fill="#000" stroke="#000" stroke-width="0.3">300</text>
<text x="180.42" y="209.2" text-anchor="middle" font-family='"Liberation Sans", sans-serif' font-weight="bold" font-size="11" fill="#000" stroke="#000" stroke-width="0.3">350</text>
<text x="228.26" y="209.2" text-anchor="middle" font-family='"Liberation Sans", sans-serif' font-weight="bold" font-size="11" fill="#000" stroke="#000" stroke-width="0.3">400</text>
<text x="276.10" y="209.2" text-anchor="middle" font-family='"Liberation Sans", sans-serif' font-weight="bold" font-size="11" fill="#000" stroke="#000" stroke-width="0.3">450</text>
<text x="156.5" y="231.6" text-anchor="middle" font-family='"Liberation Serif", serif' font-weight="bold" font-size="13" fill="#000" stroke="#000" stroke-width="0.3">Raman shift (cm<tspan font-size="8" dy="-6">-1</tspan><tspan dy="6">)</tspan></text>
<text transform="translate(22,99.3) rotate(-90)" text-anchor="middle" font-family='"Liberation Serif", serif' font-weight="bold" font-size="13.4" fill="#000" stroke="#000" stroke-width="0.3">Intensity (a.u.)</text>
<text x="129" y="31.8" font-family='"Liberation Serif", serif' font-weight="bold" font-size="8.2" fill="#000" stroke="#000" stroke-width="0.3">325 cm<tspan font-size="4.8" dy="-4.2">-1</tspan></text>
<text x="162.5" y="36.5" font-family='"Liberation Serif", serif' font-weight="bold" font-size="8.2" fill="#000" stroke="#000" stroke-width="0.3">330 cm<tspan font-size="4.8" dy="-4.2">-1</tspan></text>
<text x="254.3" y="112.6" font-family='"Liberation Serif", serif' font-weight="bold" font-size="9" fill="#000" stroke="#000" stroke-width="0.3">x=1</text>
<text x="251.4" y="130.4" font-family='"Liberation Serif", serif' font-weight="bold" font-size="9" fill="#000" stroke="#000" stroke-width="0.3">x=0.8</text>
<text x="252.0" y="147.8" font-family='"Liberation Serif", serif' font-weight="bold" font-size="9" fill="#000" stroke="#000" stroke-width="0.3">x=0.5</text>
<text x="252.0" y="172.8" font-family='"Liberation Serif", serif' font-weight="bold" font-size="9" fill="#000" stroke="#000" stroke-width="0.3">x=0.3</text>
<text x="255.8" y="188.2" font-family='"Liberation Serif", serif' font-weight="bold" font-size="9" fill="#000" stroke="#000" stroke-width="0.3">x=0</text>
<text x="304.2" y="13" font-family='"Liberation Serif", serif' font-size="17" fill="#000">(b)</text>
<rect x="352.00" y="10.75" width="247.40" height="183.85" fill="none" stroke="#111" stroke-width="1.7"/>
<line x1="352.00" y1="186.10" x2="347.60" y2="186.10" stroke="#000" stroke-width="1.5"/>
<line x1="352.00" y1="168.56" x2="349.50" y2="168.56" stroke="#000" stroke-width="1.5"/>
<line x1="352.00" y1="151.03" x2="347.60" y2="151.03" stroke="#000" stroke-width="1.5"/>
<line x1="352.00" y1="133.50" x2="349.50" y2="133.50" stroke="#000" stroke-width="1.5"/>
<line x1="352.00" y1="115.96" x2="347.60" y2="115.96" stroke="#000" stroke-width="1.5"/>
<line x1="352.00" y1="98.42" x2="349.50" y2="98.42" stroke="#000" stroke-width="1.5"/>
<line x1="352.00" y1="80.89" x2="347.60" y2="80.89" stroke="#000" stroke-width="1.5"/>
<line x1="352.00" y1="63.35" x2="349.50" y2="63.35" stroke="#000" stroke-width="1.5"/>
<line x1="352.00" y1="45.82" x2="347.60" y2="45.82" stroke="#000" stroke-width="1.5"/>
<line x1="352.00" y1="28.28" x2="349.50" y2="28.28" stroke="#000" stroke-width="1.5"/>
<line x1="352.00" y1="10.75" x2="347.60" y2="10.75" stroke="#000" stroke-width="1.5"/>
<text x="345.8" y="189.30" text-anchor="end" font-family='"Liberation Serif", serif' font-weight="bold" font-size="9.5" fill="#000" stroke="#000" stroke-width="0.3">0.0</text>
<text x="345.8" y="154.23" text-anchor="end" font-family='"Liberation Serif", serif' font-weight="bold" font-size="9.5" fill="#000" stroke="#000" stroke-width="0.3">0.4</text>
<text x="345.8" y="119.16" text-anchor="end" font-family='"Liberation Serif", serif' font-weight="bold" font-size="9.5" fill="#000" stroke="#000" stroke-width="0.3">0.8</text>
<text x="345.8" y="84.09" text-anchor="end" font-family='"Liberation Serif", serif' font-weight="bold" font-size="9.5" fill="#000" stroke="#000" stroke-width="0.3">1.2</text>
<text x="345.8" y="49.02" text-anchor="end" font-family='"Liberation Serif", serif' font-weight="bold" font-size="9.5" fill="#000" stroke="#000" stroke-width="0.3">1.6</text>
<text x="345.8" y="13.95" text-anchor="end" font-family='"Liberation Serif", serif' font-weight="bold" font-size="9.5" fill="#000" stroke="#000" stroke-width="0.3">2.0</text>
<line x1="372.50" y1="194.60" x2="372.50" y2="198.60" stroke="#000" stroke-width="1.5"/>
<line x1="393.14" y1="194.60" x2="393.14" y2="197.30" stroke="#000" stroke-width="1.5"/>
<line x1="413.78" y1="194.60" x2="413.78" y2="198.60" stroke="#000" stroke-width="1.5"/>
<line x1="434.42" y1="194.60" x2="434.42" y2="197.30" stroke="#000" stroke-width="1.5"/>
<line x1="455.06" y1="194.60" x2="455.06" y2="198.60" stroke="#000" stroke-width="1.5"/>
<line x1="475.70" y1="194.60" x2="475.70" y2="197.30" stroke="#000" stroke-width="1.5"/>
<line x1="496.34" y1="194.60" x2="496.34" y2="198.60" stroke="#000" stroke-width="1.5"/>
<line x1="516.98" y1="194.60" x2="516.98" y2="197.30" stroke="#000" stroke-width="1.5"/>
<line x1="537.62" y1="194.60" x2="537.62" y2="198.60" stroke="#000" stroke-width="1.5"/>
<line x1="558.26" y1="194.60" x2="558.26" y2="197.30" stroke="#000" stroke-width="1.5"/>
<line x1="578.90" y1="194.60" x2="578.90" y2="198.60" stroke="#000" stroke-width="1.5"/>
<text x="372.50" y="208.6" text-anchor="middle" font-family='"Liberation Serif", serif' font-weight="bold" font-size="9.5" fill="#000" stroke="#000" stroke-width="0.3">0.0</text>
<text x="413.78" y="208.6" text-anchor="middle" font-family='"Liberation Serif", serif' font-weight="bold" font-size="9.5" fill="#000" stroke="#000" stroke-width="0.3">0.2</text>
<text x="455.06" y="208.6" text-anchor="middle" font-family='"Liberation Serif", serif' font-weight="bold" font-size="9.5" fill="#000" stroke="#000" stroke-width="0.3">0.4</text>
<text x="496.34" y="208.6" text-anchor="middle" font-family='"Liberation Serif", serif' font-weight="bold" font-size="9.5" fill="#000" stroke="#000" stroke-width="0.3">0.6</text>
<text x="537.62" y="208.6" text-anchor="middle" font-family='"Liberation Serif", serif' font-weight="bold" font-size="9.5" fill="#000" stroke="#000" stroke-width="0.3">0.8</text>
<text x="578.90" y="208.6" text-anchor="middle" font-family='"Liberation Serif", serif' font-weight="bold" font-size="9.5" fill="#000" stroke="#000" stroke-width="0.3">1.0</text>
<text x="475.6" y="225.8" text-anchor="middle" font-family='"Liberation Serif", serif' font-weight="bold" font-size="11" fill="#000" stroke="#000" stroke-width="0.3">Cd/(Zn+Cd)</text>
<text transform="translate(322.6,109.9) rotate(-90)" text-anchor="middle" font-family='"Liberation Serif", serif' font-weight="bold" font-size="11.6" fill="#000" stroke="#000" stroke-width="0.3">Compositional Ratio</text>
<polyline points="372.50,186.10 434.42,165.93 475.70,138.76 537.62,114.21 578.90,98.42" fill="none" stroke="#000" stroke-width="2" stroke-linejoin="round"/>
<rect x="369.00" y="182.60" width="7.00" height="7.00" fill="#000"/>
<rect x="430.92" y="162.43" width="7.00" height="7.00" fill="#000"/>
<rect x="472.20" y="135.26" width="7.00" height="7.00" fill="#000"/>
<rect x="534.12" y="110.71" width="7.00" height="7.00" fill="#000"/>
<rect x="575.40" y="94.92" width="7.00" height="7.00" fill="#000"/>
<polyline points="372.50,107.19 434.42,101.06 475.70,113.33 537.62,110.70 578.90,101.06" fill="none" stroke="#ff0000" stroke-width="2" stroke-linejoin="round"/>
<circle cx="372.50" cy="107.19" r="3.80" fill="#ff0000"/>
<circle cx="434.42" cy="101.06" r="3.80" fill="#ff0000"/>
<circle cx="475.70" cy="113.33" r="3.80" fill="#ff0000"/>
<circle cx="537.62" cy="110.70" r="3.80" fill="#ff0000"/>
<circle cx="578.90" cy="101.06" r="3.80" fill="#ff0000"/>
<polyline points="372.50,49.33 434.42,26.53 475.70,62.48 537.62,47.57 578.90,15.13" fill="none" stroke="#0000ff" stroke-width="2" stroke-linejoin="round"/>
<polygon points="372.50,43.59 367.75,52.19 377.25,52.19" fill="#0000ff"/>
<polygon points="434.42,20.80 429.67,29.40 439.17,29.40" fill="#0000ff"/>
<polygon points="475.70,56.74 470.95,65.34 480.45,65.34" fill="#0000ff"/>
<polygon points="537.62,41.84 532.87,50.44 542.37,50.44" fill="#0000ff"/>
<polygon points="578.90,9.40 574.15,18.00 583.65,18.00" fill="#0000ff"/>
<text x="371.0" y="180.9" font-family='"Liberation Serif", serif' font-weight="bold" font-size="8.1" fill="#000" stroke="#000" stroke-width="0.3">0</text>
<text x="427.0" y="177.6" font-family='"Liberation Serif", serif' font-weight="bold" font-size="8.1" fill="#000" stroke="#000" stroke-width="0.3">0.23</text>
<text x="468.6" y="150.6" font-family='"Liberation Serif", serif' font-weight="bold" font-size="8.1" fill="#000" stroke="#000" stroke-width="0.3">0.54</text>
<text x="531.0" y="127.9" font-family='"Liberation Serif", serif' font-weight="bold" font-size="8.1" fill="#000" stroke="#000" stroke-width="0.3">0.82</text>
<text x="577.5" y="93.4" font-family='"Liberation Serif", serif' font-weight="bold" font-size="8.1" fill="#000" stroke="#000" stroke-width="0.3">1</text>
<text x="365.8" y="101.5" font-family='"Liberation Serif", serif' font-weight="bold" font-size="8.1" fill="#ff0000" stroke="#ff0000" stroke-width="0.3">0.90</text>
<text x="428.0" y="96.7" font-family='"Liberation Serif", serif' font-weight="bold" font-size="8.1" fill="#ff0000" stroke="#ff0000" stroke-width="0.3">0.97</text>
<text x="470.4" y="107.8" font-family='"Liberation Serif", serif' font-weight="bold" font-size="8.1" fill="#ff0000" stroke="#ff0000" stroke-width="0.3">0.83</text>
<text x="529.4" y="105.2" font-family='"Liberation Serif", serif' font-weight="bold" font-size="8.1" fill="#ff0000" stroke="#ff0000" stroke-width="0.3">0.86</text>
<text x="572.7" y="113.0" font-family='"Liberation Serif", serif' font-weight="bold" font-size="8.1" fill="#ff0000" stroke="#ff0000" stroke-width="0.3">0.97</text>
<text x="365.2" y="62.6" font-family='"Liberation Serif", serif' font-weight="bold" font-size="8.1" fill="#0000ff" stroke="#0000ff" stroke-width="0.3">1.56</text>
<text x="425.0" y="42.0" font-family='"Liberation Serif", serif' font-weight="bold" font-size="8.1" fill="#0000ff" stroke="#0000ff" stroke-width="0.3">1.82</text>
<text x="467.0" y="75.0" font-family='"Liberation Serif", serif' font-weight="bold" font-size="8.1" fill="#0000ff" stroke="#0000ff" stroke-width="0.3">1.41</text>
<text x="530.2" y="60.6" font-family='"Liberation Serif", serif' font-weight="bold" font-size="8.1" fill="#0000ff" stroke="#0000ff" stroke-width="0.3">1.58</text>
<text x="571.9" y="30.3" font-family='"Liberation Serif", serif' font-weight="bold" font-size="8.1" fill="#0000ff" stroke="#0000ff" stroke-width="0.3">1.95</text>
<line x1="512.8" y1="153.60" x2="519.1" y2="153.60" stroke="#000" stroke-width="1.9"/>
<line x1="528.6" y1="153.60" x2="535" y2="153.60" stroke="#000" stroke-width="1.9"/>
<rect x="520.60" y="150.40" width="6.40" height="6.40" fill="#000"/>
<text x="536.6" y="157.10" font-family='"Liberation Serif", serif' font-weight="bold" font-size="9.2" fill="#000" stroke="#000" stroke-width="0.3">Cd/(Zn+Cd)</text>
<line x1="512.8" y1="166.90" x2="519.1" y2="166.90" stroke="#ff0000" stroke-width="1.9"/>
<line x1="528.6" y1="166.90" x2="535" y2="166.90" stroke="#ff0000" stroke-width="1.9"/>
<circle cx="523.90" cy="166.90" r="3.60" fill="#ff0000"/>
<text x="536.6" y="170.40" font-family='"Liberation Serif", serif' font-weight="bold" font-size="9.2" fill="#000" stroke="#000" stroke-width="0.3">Sn /(Zn+Cd)</text>
<line x1="512.8" y1="179.80" x2="519.1" y2="179.80" stroke="#0000ff" stroke-width="1.9"/>
<line x1="528.6" y1="179.80" x2="535" y2="179.80" stroke="#0000ff" stroke-width="1.9"/>
<polygon points="523.90,175.03 519.40,182.63 528.40,182.63" fill="#0000ff"/>
<text x="536.6" y="183.30" font-family='"Liberation Serif", serif' font-weight="bold" font-size="9.2" fill="#000" stroke="#000" stroke-width="0.3">Cu/(Zn+Cd)</text>
</svg></body></html>
